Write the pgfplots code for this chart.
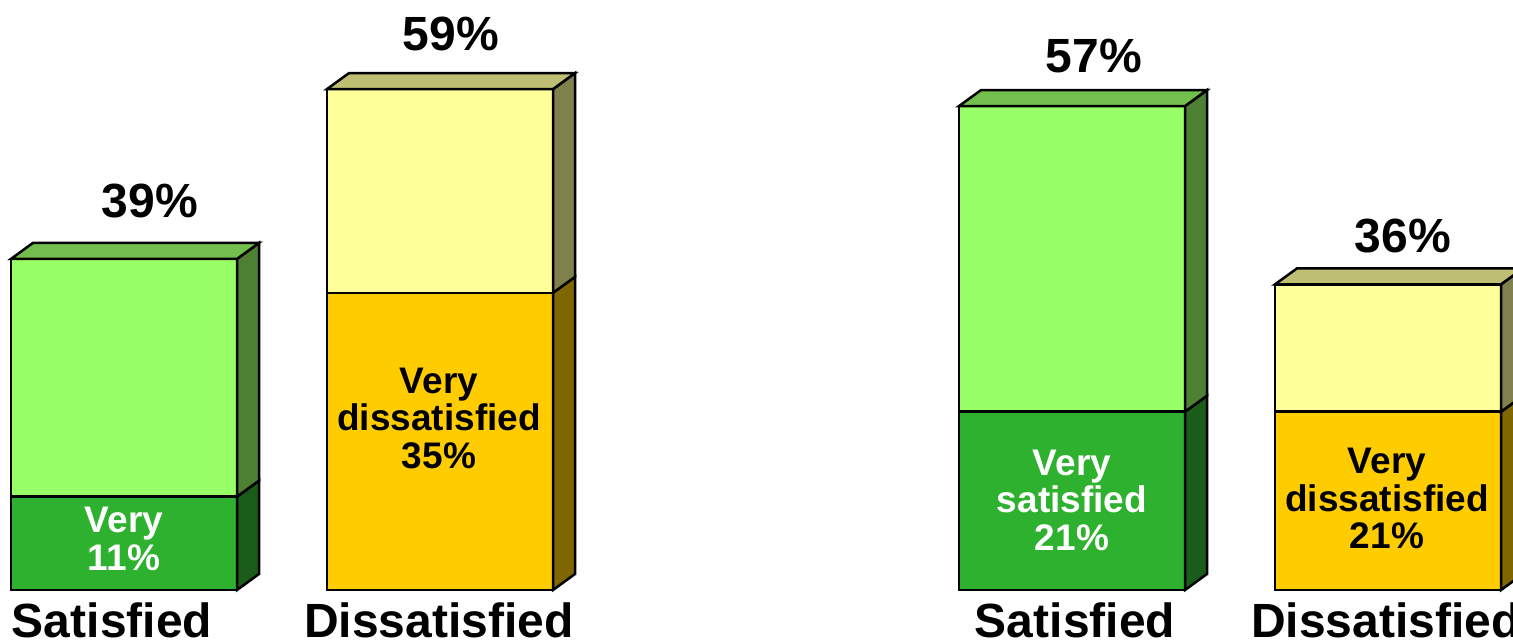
\documentclass[border=0pt]{standalone}
\usepackage{pgfplots}
\pgfplotsset{compat=1.18}
\usepackage{fontspec}
\setmainfont{Liberation Sans}
\definecolor{lgF}{HTML}{99FF66}
\definecolor{lgT}{HTML}{73BF4D}
\definecolor{lgS}{HTML}{4D8033}
\definecolor{dgF}{HTML}{2EB12E}
\definecolor{dgS}{HTML}{1A5C1A}
\definecolor{lyF}{HTML}{FFFF99}
\definecolor{lyT}{HTML}{BFBF73}
\definecolor{lyS}{HTML}{80804D}
\definecolor{goF}{HTML}{FFCC00}
\definecolor{goS}{HTML}{806600}
\tikzset{big/.style={font=\fontsize{48bp}{48bp}\selectfont\bfseries, inner sep=0pt, anchor=base},
         inl/.style={font=\fontsize{37bp}{37.5bp}\selectfont\bfseries, inner sep=0pt, align=center, anchor=center}}
\begin{document}
\begin{tikzpicture}
\begin{axis}[width=1513bp, height=640bp, scale only axis,
  xmin=0, xmax=1513, ymin=-5.889, ymax=69.494,
  hide axis, clip=false,
  every axis plot/.append style={draw=black, line width=2.5bp, line join=miter, mark=none}]
% ---------- Bar 1: Satisfied 39 (very 11)
\addplot[fill=dgF] coordinates {(11,0) (237,0) (237,11) (11,11)} -- cycle;
\addplot[fill=dgS] coordinates {(237,0) (259,1.885) (259,12.885) (237,11)} -- cycle;
\addplot[fill=lgF] coordinates {(11,11) (237,11) (237,39) (11,39)} -- cycle;
\addplot[fill=lgS] coordinates {(237,11) (259,12.885) (259,40.885) (237,39)} -- cycle;
\addplot[fill=lgT] coordinates {(11,39) (33,40.885) (259,40.885) (237,39)} -- cycle;
% ---------- Bar 2: Dissatisfied 59 (very 35)
\addplot[fill=goF] coordinates {(327,0) (553,0) (553,35) (327,35)} -- cycle;
\addplot[fill=goS] coordinates {(553,0) (575,1.885) (575,36.885) (553,35)} -- cycle;
\addplot[fill=lyF] coordinates {(327,35) (553,35) (553,59) (327,59)} -- cycle;
\addplot[fill=lyS] coordinates {(553,35) (575,36.885) (575,60.885) (553,59)} -- cycle;
\addplot[fill=lyT] coordinates {(327,59) (349,60.885) (575,60.885) (553,59)} -- cycle;
% ---------- Bar 3: Satisfied 57 (very 21)
\addplot[fill=dgF] coordinates {(959,0) (1185,0) (1185,21) (959,21)} -- cycle;
\addplot[fill=dgS] coordinates {(1185,0) (1207,1.885) (1207,22.885) (1185,21)} -- cycle;
\addplot[fill=lgF] coordinates {(959,21) (1185,21) (1185,57) (959,57)} -- cycle;
\addplot[fill=lgS] coordinates {(1185,21) (1207,22.885) (1207,58.885) (1185,57)} -- cycle;
\addplot[fill=lgT] coordinates {(959,57) (981,58.885) (1207,58.885) (1185,57)} -- cycle;
% ---------- Bar 4: Dissatisfied 36 (very 21)
\addplot[fill=goF] coordinates {(1275,0) (1501,0) (1501,21) (1275,21)} -- cycle;
\addplot[fill=goS] coordinates {(1501,0) (1523,1.885) (1523,22.885) (1501,21)} -- cycle;
\addplot[fill=lyF] coordinates {(1275,21) (1501,21) (1501,36) (1275,36)} -- cycle;
\addplot[fill=lyS] coordinates {(1501,21) (1523,22.885) (1523,37.885) (1501,36)} -- cycle;
\addplot[fill=lyT] coordinates {(1275,36) (1297,37.885) (1523,37.885) (1501,36)} -- cycle;
% ---------- labels
\node[big] at (axis cs:150,43.93) {39\%};
\node[big] at (axis cs:451,63.5) {59\%};
\node[big] at (axis cs:1094,61.0) {57\%};
\node[big] at (axis cs:1403,39.8) {36\%};
\node[big] at (axis cs:112,-5.65) {Satisfied};
\node[big] at (axis cs:439,-5.65) {Dissatisfied};
\node[big] at (axis cs:1075,-5.65) {Satisfied};
\node[big] at (axis cs:1386,-5.65) {Dissatisfied};
\node[inl, white] at (axis cs:124,6.04) {Very\\11\%};
\node[inl, black] at (axis cs:439,20.26) {Very\\dissatisfied\\35\%};
\node[inl, white] at (axis cs:1072,10.57) {Very\\satisfied\\21\%};
\node[inl, black] at (axis cs:1387,10.78) {Very\\dissatisfied\\21\%};
\end{axis}
\pgfresetboundingbox
\useasboundingbox (current axis.south west) rectangle (current axis.north east);
\end{tikzpicture}
\end{document}
